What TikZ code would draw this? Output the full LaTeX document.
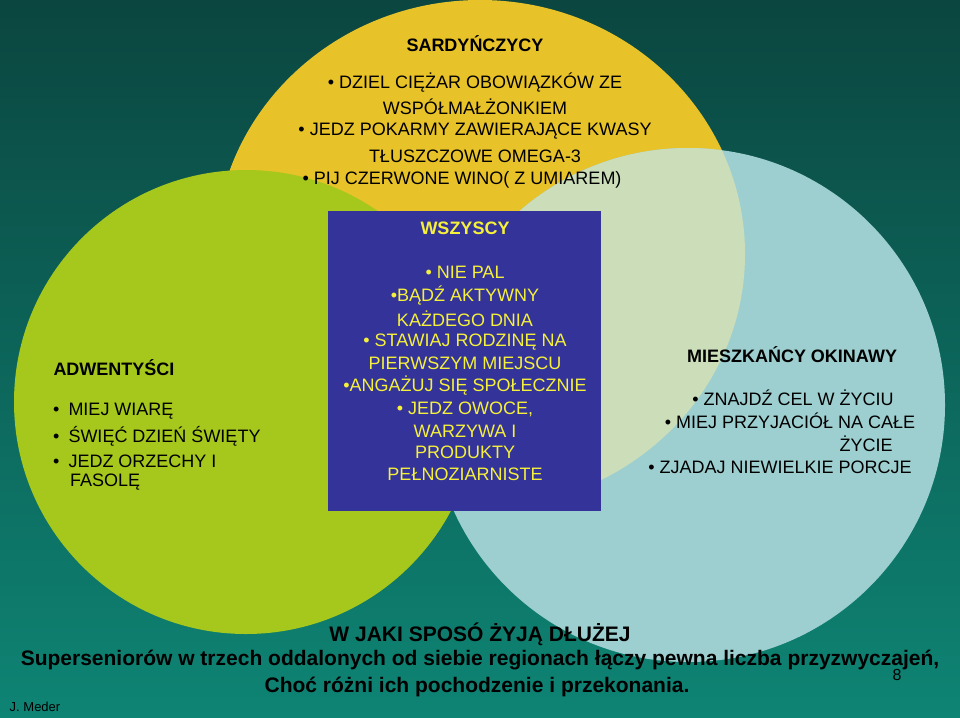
\documentclass[tikz,border=0pt]{standalone}
\usepackage{fontspec}
\setmainfont{Liberation Sans}
\definecolor{bgtop}{HTML}{0B4640}
\definecolor{bgbot}{HTML}{0E8474}
\definecolor{yel}{HTML}{E8C229}
\definecolor{grn}{HTML}{A6C81C}
\definecolor{lbl}{HTML}{9ECFD0}
\definecolor{ovl}{HTML}{CCDDB9}
\definecolor{rect}{HTML}{33339A}
\definecolor{txtyel}{HTML}{F5F03A}
\begin{document}
\begin{tikzpicture}[x=1pt,y=-1pt,
  ct/.style={font=\fontsize{18}{21}\selectfont, text=black, align=center, inner sep=0},
  hd/.style={font=\fontsize{18}{21}\selectfont\bfseries, text=black, inner sep=0},
  rt/.style={font=\fontsize{18}{21}\selectfont, text=txtyel, align=center, inner sep=0},
  bt/.style={font=\fontsize{21}{24}\selectfont\bfseries, text=black, inner sep=0}]
\shade[top color=bgtop, bottom color=bgbot] (0,0) rectangle (960,717);
\useasboundingbox (0,0) rectangle (960,717);
\fill[yel] (480,254) ellipse [x radius=265, y radius=254];
\fill[lbl] (688,405) circle (257);
\begin{scope}
 \clip (480,254) ellipse [x radius=265, y radius=254];
 \fill[ovl] (688,405) circle (257);
\end{scope}
\fill[grn] (246,402) circle (232);
\node[fill=rect, minimum width=273, minimum height=300, inner sep=0] (box) at (464.5,361) {};
\node[hd] (sard) at (475,44) {SARDYŃCZYCY};
\node[ct] (s1) at (475,83) {• DZIEL CIĘŻAR OBOWIĄZKÓW ZE};
\node[ct] (s2) at (475,107) {WSPÓŁMAŁŻONKIEM};
\node[ct] (s3) at (475,131) {• JEDZ POKARMY ZAWIERAJĄCE KWASY};
\node[ct] (s4) at (475,156) {TŁUSZCZOWE OMEGA-3};
\node[ct] (s5) at (462,180) {• PIJ CZERWONE WINO( Z UMIAREM)};
\node[font=\fontsize{18}{21}\selectfont\bfseries, text=txtyel, inner sep=0] (wsz) at (465,228) {WSZYSCY};
\foreach \t/\y [count=\i] in {{• NIE PAL}/272,{•BĄDŹ AKTYWNY}/296,{KAŻDEGO DNIA}/319,{• STAWIAJ RODZINĘ NA}/342,{PIERWSZYM MIEJSCU}/363,{•ANGAŻUJ SIĘ SPOŁECZNIE}/386,{• JEDZ OWOCE,}/409,{WARZYWA I}/431,{PRODUKTY}/452,{PEŁNOZIARNISTE}/474}
  \node[rt] (w\i) at (465,\y) {\t};
\node[hd] (adw) at (114,368) {ADWENTYŚCI};
\node[ct, anchor=west] (a1) at (53,411) {•\hspace{9pt}MIEJ WIARĘ};
\node[ct, anchor=west] (a2) at (53,436) {•\hspace{9pt}ŚWIĘĆ DZIEŃ ŚWIĘTY};
\node[ct, anchor=west] (a3) at (53,461) {•\hspace{9pt}JEDZ ORZECHY I};
\node[ct, anchor=west] (a4) at (70,482) {FASOLĘ};
\node[hd] (oki) at (792,355) {MIESZKAŃCY OKINAWY};
\node[ct] (o1) at (793,398) {• ZNAJDŹ CEL W ŻYCIU};
\node[ct] (o2) at (790,421) {• MIEJ PRZYJACIÓŁ NA CAŁE};
\node[ct] (o3) at (866,444) {ŻYCIE};
\node[ct] (o4) at (780,467) {• ZJADAJ NIEWIELKIE PORCJE};
\node[bt] (b1) at (480,634) {W JAKI SPOSÓ ŻYJĄ DŁUŻEJ};
\node[bt] (b2) at (480,660) {Superseniorów w trzech oddalonych od siebie regionach łączy pewna liczba przyzwyczajeń,};
\node[bt] (b3) at (477,687) {Choć różni ich pochodzenie i przekonania.};
\node[font=\fontsize{16}{18}\selectfont, inner sep=0] (pg) at (897,675) {8};
\node[font=\fontsize{13}{15}\selectfont, inner sep=0] (jm) at (35,707) {J. Meder};
\end{tikzpicture}
\end{document}
